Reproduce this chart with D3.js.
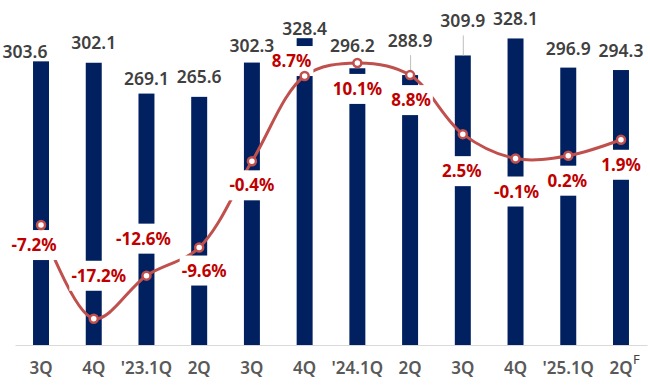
<!DOCTYPE html>
<html>
<head>
<meta charset="utf-8">
<script src="https://cdn.jsdelivr.net/npm/d3@7/dist/d3.min.js"></script>
<style>
  body { margin: 0; background: #fff; }
  svg { display: block; font-family: "Noto Sans", "Noto Sans CJK KR", sans-serif; }
</style>
</head>
<body>
<script>
// quarterly values (bars) and YoY growth % (line)
var quarters = ["3Q", "4Q", "'23.1Q", "2Q", "3Q ", "4Q ", "'24.1Q", "2Q ", "3Q  ", "4Q  ", "'25.1Q", "2Q  "];
var quarterLabels = ["3Q", "4Q", "'23.1Q", "2Q", "3Q", "4Q", "'24.1Q", "2Q", "3Q", "4Q", "'25.1Q", "2Q"];
var values = [303.6, 302.1, 269.1, 265.6, 302.3, 328.4, 296.2, 288.9, 309.9, 328.1, 296.9, 294.3];
var growth = [-7.2, -17.2, -12.6, -9.6, -0.4, 8.7, 10.1, 8.8, 2.5, -0.1, 0.2, 1.9];

function init() {
    var width = 650, height = 386;

    var svg = d3.select("body").append("svg")
        .attr("width", width)
        .attr("height", height);

    var x = d3.scaleBand()
        .domain(quarters)
        .range([15, 647])
        .paddingInner(0.697)
        .paddingOuter(0.342);

    var y = d3.scaleLinear().domain([0, 350]).range([345, 18]);
    var y2 = d3.scaleLinear().domain([-20, 15]).range([345, 17]);

    var bw = x.bandwidth();
    var cx = function(i) { return x(quarters[i]) + bw / 2; };

    // axis
    var xAxis = d3.axisBottom(x).tickSize(0).tickPadding(17)
        .tickFormat(function(d, i) { return quarterLabels[i]; });

    var ax = svg.append("g")
        .attr("transform", "translate(0,345)")
        .call(xAxis);
    ax.select(".domain").attr("stroke", "#d9d9d9").attr("stroke-width", 1);
    ax.selectAll("text")
        .attr("fill", "#595959")
        .style("font-size", "17px")
        .style("font-weight", "600")
        .style("font-family", "'Noto Sans', sans-serif");

    // forecast marker
    svg.append("text")
        .attr("x", cx(11) + 12)
        .attr("y", 364)
        .attr("fill", "#404040")
        .style("font-size", "13px")
        .text("F");

    // bars
    svg.append("g").selectAll("rect")
        .data(values)
        .enter().append("rect")
        .attr("x", function(d, i) { return x(quarters[i]); })
        .attr("y", function(d) { return y(d); })
        .attr("width", bw)
        .attr("height", function(d) { return y(0) - y(d); })
        .attr("fill", "#002060");

    // growth line
    var line = d3.line()
        .x(function(d, i) { return cx(i); })
        .y(function(d) { return y2(d); })
        .curve(d3.curveCatmullRom.alpha(0.5));

    svg.append("path")
        .datum(growth)
        .attr("d", line)
        .attr("fill", "none")
        .attr("stroke", "#C0504D")
        .attr("stroke-width", 3);

    // growth labels with white boxes (they cut bars and line)
    var pctOff = [[-7, 20], [5, -43], [-3, -37], [5, 23], [0, 24], [-13, -15],
                  [0, 26], [1, 25], [-1, 37], [1, 33], [-1, 25], [0, 25]];

    var pg = svg.append("g").selectAll("g")
        .data(growth)
        .enter().append("g")
        .attr("transform", function(d, i) {
            return "translate(" + (cx(i) + pctOff[i][0]) + "," + (y2(d) + pctOff[i][1]) + ")";
        });

    pg.append("rect")
        .attr("y", -15)
        .attr("height", 30)
        .attr("fill", "#fff");

    pg.append("text")
        .attr("text-anchor", "middle")
        .attr("dy", "0.36em")
        .attr("fill", "#C00000")
        .style("font-size", "17px")
        .style("font-weight", "700")
        .text(function(d) { return d.toFixed(1) + "%"; });

    pg.each(function() {
        var g = d3.select(this);
        var w = g.select("text").node().getComputedTextLength();
        g.select("rect").attr("x", -w / 2 - 2).attr("width", w + 4);
    });

    // bar value labels (a few nudged like the original)
    var labelLift = [3, 14, 9, 14, 11, 3, 16, 28, 28, 13, 13, 13];
    var labelDx = [-16, 0, 0, 0, 0, 0, -5, 0, 0, 0, 0, 0];

    svg.append("g").selectAll("line")
        .data(values)
        .enter().filter(function(d, i) { return labelLift[i] > 20; })
        .append("line")
        .attr("x1", function(d) { var i = values.indexOf(d); return cx(i) + 0.5; })
        .attr("x2", function(d) { var i = values.indexOf(d); return cx(i) + 0.5; })
        .attr("y1", function(d) { var i = values.indexOf(d); return y(d) - labelLift[i] + 8; })
        .attr("y2", function(d) { return y(d); })
        .attr("stroke", "#bfbfbf")
        .attr("stroke-width", 1);

    svg.append("g").selectAll("text")
        .data(values)
        .enter().append("text")
        .attr("x", function(d, i) { return cx(i) + labelDx[i]; })
        .attr("y", function(d, i) { return y(d) - labelLift[i]; })
        .attr("text-anchor", "middle")
        .attr("fill", "#404040")
        .style("font-size", "17.5px")
        .style("font-weight", "600")
        .text(function(d) { return d.toFixed(1); });

    // markers
    svg.append("g").selectAll("circle")
        .data(growth)
        .enter().append("circle")
        .attr("cx", function(d, i) { return cx(i); })
        .attr("cy", function(d) { return y2(d); })
        .attr("r", 4)
        .attr("fill", "#fff")
        .attr("stroke", "#C0504D")
        .attr("stroke-width", 2.5);
}

init();
</script>
</body>
</html>
